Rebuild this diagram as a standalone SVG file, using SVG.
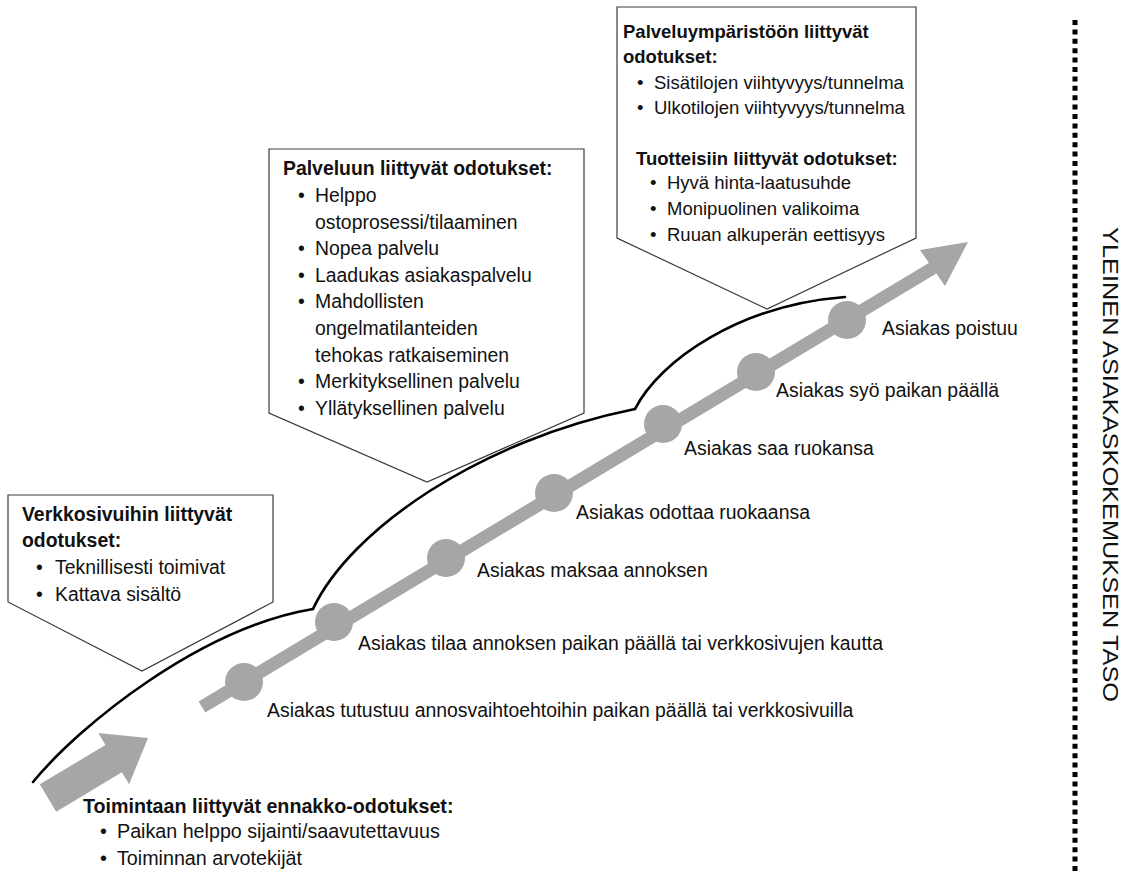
<svg xmlns="http://www.w3.org/2000/svg" width="1123" height="874" viewBox="0 0 1123 874">
  <style>
    text { font-family: "Liberation Sans", Arial, sans-serif; font-size: 19.4px; fill: #111; }
    .b { font-weight: bold; }
    #environment text { font-size: 18.5px; }
    #advance text { font-size: 19.7px; }
    .box { fill: #fff; stroke: #3a3a3a; stroke-width: 1.2; }
    .track { stroke: #a6a6a6; stroke-width: 13; fill: none; }
    .dot { fill: #a6a6a6; }
    .grey { fill: #a6a6a6; }
    .curve { fill: none; stroke: #000; stroke-width: 2.6; stroke-linecap: round; }
  </style>

  <!-- expectation level curve -->
  <g id="connectors">
    <path class="curve" d="M33,782 C80,725 200,628 313,609"/>
    <path class="curve" d="M313,609 C350,530 480,440 635,409"/>
    <path class="curve" d="M635,409 C660,360 740,305 845,297"/>
    <!-- customer path arrow -->
    <line class="track" x1="202" y1="707" x2="933" y2="268"/>
    <polygon class="grey" points="920,250 968,242 945,286"/>
    <!-- entry arrow -->
    <polygon class="grey" points="39.8,784.3 105.5,744.9 98.3,732.9 148,738 129.1,784.3 121.9,772.3 56.2,811.7"/>
  </g>

  <!-- steps on the path -->
  <g id="step1"><circle class="dot" cx="244" cy="682" r="19"/><text x="267" y="717">Asiakas tutustuu annosvaihtoehtoihin paikan päällä tai verkkosivuilla</text></g>
  <g id="step2"><circle class="dot" cx="334" cy="622" r="19"/><text x="358" y="650">Asiakas tilaa annoksen paikan päällä tai verkkosivujen kautta</text></g>
  <g id="step3"><circle class="dot" cx="446" cy="558" r="19"/><text x="477" y="577">Asiakas maksaa annoksen</text></g>
  <g id="step4"><circle class="dot" cx="554" cy="493" r="19"/><text x="576" y="519">Asiakas odottaa ruokaansa</text></g>
  <g id="step5"><circle class="dot" cx="663" cy="424" r="19"/><text x="684" y="455">Asiakas saa ruokansa</text></g>
  <g id="step6"><circle class="dot" cx="756" cy="372" r="19"/><text x="776" y="397">Asiakas syö paikan päällä</text></g>
  <g id="step7"><circle class="dot" cx="847" cy="320" r="19"/><text x="882" y="335">Asiakas poistuu</text></g>

  <!-- callout: web pages -->
  <g id="web">
    <polygon class="box" points="8,495 273,495 273,602 142,671 8,602"/>
    <text class="b" x="22" y="521">Verkkosivuihin liittyvät</text>
    <text class="b" x="22" y="547">odotukset:</text>
    <text x="36" y="574">•</text><text x="55" y="574">Teknillisesti toimivat</text>
    <text x="36" y="601">•</text><text x="55" y="601">Kattava sisältö</text>
  </g>

  <!-- callout: service -->
  <g id="service">
    <polygon class="box" points="269,149 584,149 584,413 427,482 269,413"/>
    <text class="b" x="283" y="175">Palveluun liittyvät odotukset:</text>
    <text x="298" y="202">•</text><text x="315" y="202">Helppo</text>
    <text x="315" y="229">ostoprosessi/tilaaminen</text>
    <text x="298" y="255">•</text><text x="315" y="255">Nopea palvelu</text>
    <text x="298" y="282">•</text><text x="315" y="282">Laadukas asiakaspalvelu</text>
    <text x="298" y="308">•</text><text x="315" y="308">Mahdollisten</text>
    <text x="315" y="335">ongelmatilanteiden</text>
    <text x="315" y="362">tehokas ratkaiseminen</text>
    <text x="298" y="388">•</text><text x="315" y="388">Merkityksellinen palvelu</text>
    <text x="298" y="415">•</text><text x="315" y="415">Yllätyksellinen palvelu</text>
  </g>

  <!-- callout: environment and products -->
  <g id="environment">
    <polygon class="box" points="617,7 916,7 916,238 767,309 617,238"/>
    <text class="b" x="623" y="38">Palveluympäristöön liittyvät</text>
    <text class="b" x="623" y="63">odotukset:</text>
    <text x="637" y="89">•</text><text x="654" y="89">Sisätilojen viihtyvyys/tunnelma</text>
    <text x="637" y="114">•</text><text x="654" y="114">Ulkotilojen viihtyvyys/tunnelma</text>
    <text class="b" x="636" y="165">Tuotteisiin liittyvät odotukset:</text>
    <text x="650" y="189">•</text><text x="667" y="189">Hyvä hinta-laatusuhde</text>
    <text x="650" y="215">•</text><text x="667" y="215">Monipuolinen valikoima</text>
    <text x="650" y="241">•</text><text x="667" y="241">Ruuan alkuperän eettisyys</text>
  </g>

  <!-- advance expectations -->
  <g id="advance">
    <text class="b" x="83" y="813">Toimintaan liittyvät ennakko-odotukset:</text>
    <text x="100" y="838">•</text><text x="117" y="838">Paikan helppo sijainti/saavutettavuus</text>
    <text x="100" y="865">•</text><text x="117" y="865">Toiminnan arvotekijät</text>
  </g>

  <!-- overall level -->
  <g id="level">
    <line x1="1075" y1="20" x2="1075" y2="874" stroke="#000" stroke-width="5" stroke-dasharray="5 4.4"/>
    <text transform="translate(1103,227) rotate(90)" style="font-size:22px" textLength="475" lengthAdjust="spacingAndGlyphs">YLEINEN ASIAKASKOKEMUKSEN TASO</text>
  </g>
</svg>
